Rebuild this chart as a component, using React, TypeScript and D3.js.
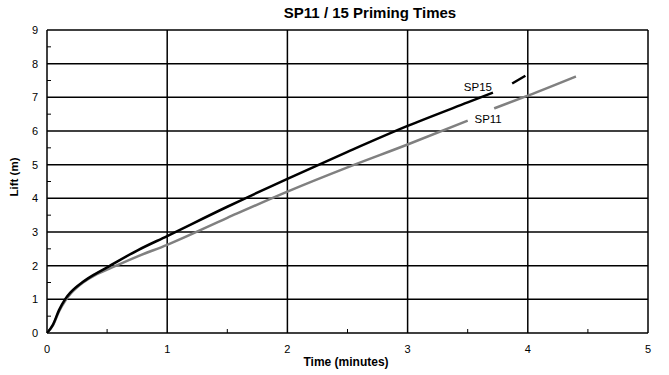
import { useRef, useEffect } from 'react';
import * as d3 from 'd3';

// SP15 (black) - null breaks the line where the label sits
const sp15Time = [0, 0.05, 0.1, 0.15, 0.2, 0.3, 0.4, 0.5, 0.75, 1, 1.5, 2, 2.5, 3, 3.5, 3.71, null, 3.87, 3.98];
const sp15Lift = [0, 0.25, 0.68, 1.0, 1.22, 1.52, 1.75, 1.95, 2.45, 2.88, 3.75, 4.58, 5.38, 6.15, 6.85, 7.14, null, 7.41, 7.64];
// SP11 (grey)
const sp11Time = [0, 0.05, 0.1, 0.15, 0.2, 0.3, 0.4, 0.5, 0.75, 1, 1.5, 2, 2.5, 3, 3.5, null, 3.72, 4, 4.4];
const sp11Lift = [0, 0.23, 0.64, 0.95, 1.18, 1.5, 1.72, 1.88, 2.27, 2.62, 3.42, 4.2, 4.92, 5.6, 6.31, null, 6.67, 7.05, 7.62];

const xTicks = [0, 1, 2, 3, 4, 5];
const yTicks = [0, 1, 2, 3, 4, 5, 6, 7, 8, 9];
const xMinor = [0.5, 1.5, 2.5, 3.5, 4.5];
const yMinor = [0.5, 1.5, 2.5, 3.5, 4.5, 5.5, 6.5, 7.5, 8.5];

const width = 669;
const height = 375;
const margin = { top: 30, right: 21, bottom: 42, left: 47 };

export default function App() {
  const svgRef = useRef(null);

  useEffect(() => {
    const svg = d3.select(svgRef.current);
    svg.selectAll('*').remove();

    const x = d3.scaleLinear().domain([0, 5]).range([margin.left, width - margin.right]);
    const y = d3.scaleLinear().domain([0, 9]).range([height - margin.bottom, margin.top]);
    const font = 'Liberation Sans, Arial, sans-serif';

    svg.append('rect').attr('width', width).attr('height', height).attr('fill', '#fff');

    // grid
    svg.append('g').selectAll('line').data(yTicks).join('line')
      .attr('x1', x(0)).attr('x2', x(5))
      .attr('y1', (d) => y(d)).attr('y2', (d) => y(d))
      .attr('stroke', '#000').attr('stroke-width', 1.5);
    svg.append('g').selectAll('line').data(xTicks).join('line')
      .attr('y1', y(0)).attr('y2', y(9))
      .attr('x1', (d) => x(d)).attr('x2', (d) => x(d))
      .attr('stroke', '#000').attr('stroke-width', 1.5);

    // minor ticks
    svg.append('g').selectAll('line').data(xMinor).join('line')
      .attr('x1', (d) => x(d)).attr('x2', (d) => x(d))
      .attr('y1', y(0)).attr('y2', y(0) - 4)
      .attr('stroke', '#000').attr('stroke-width', 1);
    svg.append('g').selectAll('line').data(yMinor).join('line')
      .attr('y1', (d) => y(d)).attr('y2', (d) => y(d))
      .attr('x1', x(0)).attr('x2', x(0) + 4)
      .attr('stroke', '#000').attr('stroke-width', 1);

    // tick labels
    svg.append('g').selectAll('text').data(xTicks).join('text')
      .attr('x', (d) => x(d)).attr('y', y(0) + 20)
      .attr('text-anchor', 'middle').attr('font-family', font).attr('font-size', 11)
      .attr('fill', '#000').text((d) => d);
    svg.append('g').selectAll('text').data(yTicks).join('text')
      .attr('x', x(0) - 9).attr('y', (d) => y(d) + 4)
      .attr('text-anchor', 'end').attr('font-family', font).attr('font-size', 11)
      .attr('fill', '#000').text((d) => d);

    // series
    const line = d3.line()
      .defined((d) => d[0] !== null)
      .x((d) => x(d[0]))
      .y((d) => y(d[1]))
      .curve(d3.curveMonotoneX);

    const sp11 = sp11Time.map((t, i) => [t, sp11Lift[i]]);
    const sp15 = sp15Time.map((t, i) => [t, sp15Lift[i]]);

    svg.append('path').datum(sp11).attr('d', line)
      .attr('fill', 'none').attr('stroke', '#808080').attr('stroke-width', 2.5);
    svg.append('path').datum(sp15).attr('d', line)
      .attr('fill', 'none').attr('stroke', '#000').attr('stroke-width', 2.5);

    // series labels
    svg.append('text').attr('x', x(3.585)).attr('y', 91)
      .attr('text-anchor', 'middle').attr('font-family', font).attr('font-size', 11.5)
      .text('SP15');
    svg.append('text').attr('x', x(3.67)).attr('y', 123)
      .attr('text-anchor', 'middle').attr('font-family', font).attr('font-size', 11.5)
      .text('SP11');

    // titles
    svg.append('text').attr('x', 370).attr('y', 18)
      .attr('text-anchor', 'middle').attr('font-family', font).attr('font-size', 15)
      .attr('font-weight', 'bold').text('SP11 / 15 Priming Times');
    svg.append('text').attr('x', 346).attr('y', 366)
      .attr('text-anchor', 'middle').attr('font-family', font).attr('font-size', 12)
      .attr('font-weight', 'bold').text('Time (minutes)');
    svg.append('text')
      .attr('transform', 'translate(18,177) rotate(-90)')
      .attr('text-anchor', 'middle').attr('font-family', font).attr('font-size', 11.5)
      .attr('font-weight', 'bold').text('Lift (m)');
  }, []);

  return (
    <svg ref={svgRef} width={width} height={height}
      style={{ position: 'absolute', left: 0, top: 0 }} />
  );
}
